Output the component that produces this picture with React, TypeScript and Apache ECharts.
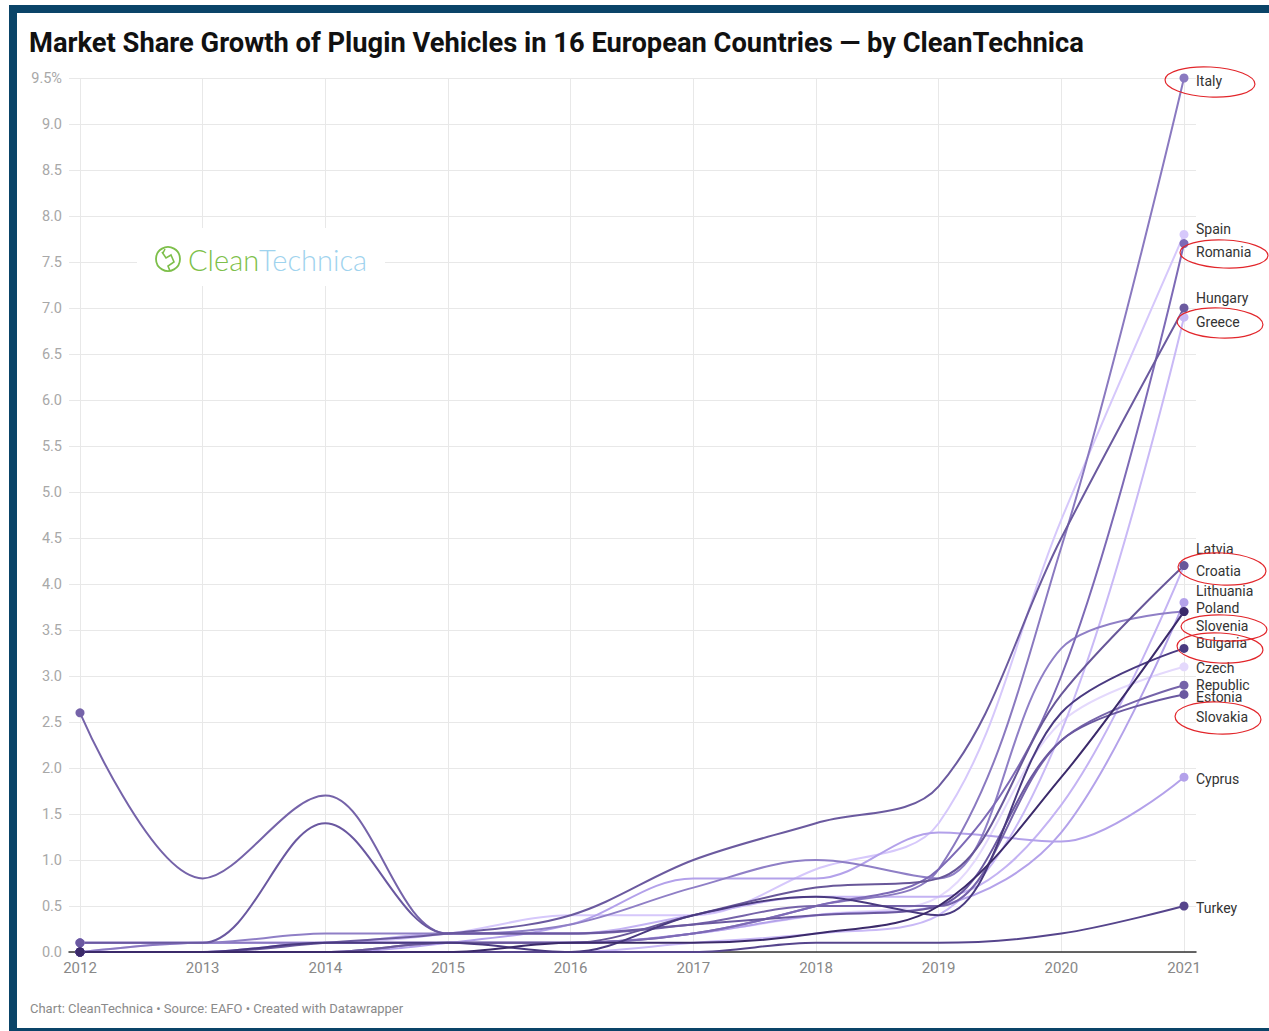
import React, { useEffect, useRef } from "react";
import * as echarts from "echarts";

// ---------- DATA ----------
const years = [2012, 2013, 2014, 2015, 2016, 2017, 2018, 2019, 2020, 2021];
const yTicksMax = 9.5;

const italy = [0.0, 0.1, 0.1, 0.1, 0.1, 0.2, 0.5, 0.9, 4.4, 9.5];
const spain = [0.0, 0.1, 0.1, 0.2, 0.4, 0.4, 0.9, 1.4, 4.7, 7.8];
const romania = [0.0, 0.0, 0.0, 0.1, 0.1, 0.2, 0.5, 0.9, 3.0, 7.7];
const hungary = [0.0, 0.0, 0.1, 0.2, 0.4, 1.0, 1.4, 1.8, 4.5, 7.0];
const greece = [0.0, 0.0, 0.0, 0.0, 0.0, 0.1, 0.2, 0.4, 2.4, 6.9];
const latvia = [0.1, 0.1, 0.1, 0.2, 0.2, 0.4, 0.6, 0.6, 1.6, 4.2];
const croatia = [0.0, 0.0, 0.0, 0.1, 0.1, 0.4, 0.7, 0.8, 2.8, 4.2];
const lithuania = [0.0, 0.0, 0.1, 0.1, 0.1, 0.2, 0.4, 0.5, 1.3, 3.8];
const poland = [0.0, 0.0, 0.0, 0.0, 0.1, 0.1, 0.2, 0.5, 1.9, 3.7];
const slovenia = [0.1, 0.1, 0.2, 0.2, 0.3, 0.7, 1.0, 0.8, 3.3, 3.7];
const bulgaria = [0.0, 0.0, 0.1, 0.1, 0.0, 0.4, 0.6, 0.4, 2.6, 3.3];
const czech = [0.0, 0.0, 0.1, 0.1, 0.1, 0.2, 0.4, 0.6, 2.5, 3.1];
const estonia = [2.6, 0.8, 1.7, 0.2, 0.2, 0.3, 0.5, 0.5, 2.3, 2.9];
const slovakia = [0.1, 0.1, 1.4, 0.2, 0.2, 0.3, 0.4, 0.5, 2.3, 2.8];
const cyprus = [0.0, 0.0, 0.0, 0.1, 0.3, 0.8, 0.8, 1.3, 1.2, 1.9];
const turkey = [0.0, 0.0, 0.0, 0.0, 0.0, 0.0, 0.1, 0.1, 0.2, 0.5];

// drawing order: light first, dark last
const countries = [
  { name: "Czech Republic", label: "Czech\nRepublic", values: czech },
  { name: "Spain", label: "Spain", values: spain },
  { name: "Greece", label: "Greece", values: greece },
  { name: "Latvia", label: "Latvia", values: latvia },
  { name: "Lithuania", label: "Lithuania", values: lithuania },
  { name: "Cyprus", label: "Cyprus", values: cyprus },
  { name: "Italy", label: "Italy", values: italy },
  { name: "Slovenia", label: "Slovenia", values: slovenia },
  { name: "Romania", label: "Romania", values: romania },
  { name: "Estonia", label: "Estonia", values: estonia },
  { name: "Hungary", label: "Hungary", values: hungary },
  { name: "Croatia", label: "Croatia", values: croatia },
  { name: "Slovakia", label: "Slovakia", values: slovakia },
  { name: "Turkey", label: "Turkey", values: turkey },
  { name: "Bulgaria", label: "Bulgaria", values: bulgaria },
  { name: "Poland", label: "Poland", values: poland },
];

// ---------- STYLES ----------
const styles: Record<string, { color: string; dy: number }> = {
  "Czech Republic": { color: "#e4d9fc", dy: 10 },
  Spain: { color: "#d6c8fb", dy: -5 },
  Greece: { color: "#c9b9f6", dy: 5 },
  Latvia: { color: "#c4b3f3", dy: -17 },
  Lithuania: { color: "#b4a2ea", dy: -11 },
  Cyprus: { color: "#b3a1ea", dy: 2 },
  Italy: { color: "#8a79c0", dy: 3 },
  Slovenia: { color: "#8f7fc6", dy: 14 },
  Romania: { color: "#7d6ab6", dy: 8 },
  Estonia: { color: "#7563a9", dy: 12 },
  Hungary: { color: "#6b5a9f", dy: -10 },
  Croatia: { color: "#685799", dy: 5 },
  Slovakia: { color: "#6a58a0", dy: 23 },
  Turkey: { color: "#56458c", dy: 2 },
  Bulgaria: { color: "#4a3a80", dy: -5 },
  Poland: { color: "#3b2a6a", dy: -4 },
};

const W = 1269;
const H = 1031;
const FONT = "Roboto, 'Noto Sans', sans-serif";

const redEllipses = [
  { cx: 1210, cy: 82, rx: 45, ry: 15, r: -0.05 },
  { cx: 1224, cy: 254, rx: 44, ry: 14, r: -0.04 },
  { cx: 1220, cy: 323, rx: 43, ry: 15, r: -0.04 },
  { cx: 1222, cy: 569, rx: 44, ry: 16, r: -0.05 },
  { cx: 1224, cy: 628, rx: 43, ry: 13, r: -0.04 },
  { cx: 1220, cy: 648, rx: 43, ry: 15, r: -0.05 },
  { cx: 1218, cy: 718, rx: 43, ry: 16, r: -0.04 },
];

export default function App() {
  const ref = useRef<HTMLDivElement>(null);

  useEffect(() => {
    if (!ref.current) return;
    const chart = echarts.init(ref.current, undefined, { renderer: "svg" });

    const series: any[] = countries.map((c) => {
      const st = styles[c.name];
      const last = c.values.length - 1;
      return {
        type: "line",
        name: c.name,
        xAxisIndex: 1,
        yAxisIndex: 1,
        data: c.values.map((v, i) => {
          const d: any = { value: [years[i], v] };
          if (i !== 0 && i !== last) d.symbol = "none";
          return d;
        }),
        smooth: 0.35,
        symbol: "circle",
        symbolSize: 9,
        showSymbol: true,
        showAllSymbol: true,
        lineStyle: { width: 2, color: st.color },
        itemStyle: { color: st.color },
        emphasis: { disabled: true },
        silent: true,
        endLabel: {
          show: true,
          formatter: c.label,
          offset: [0, st.dy],
          distance: 12,
          color: "#333",
          fontSize: 14,
          lineHeight: 17,
          fontFamily: FONT,
        },
      };
    });

    const graphics: any[] = [
      // logo background
      {
        type: "rect",
        shape: { x: 137, y: 228, width: 248, height: 58 },
        style: { fill: "#ffffff" },
        z: 5,
      },
      {
        type: "circle",
        shape: { cx: 168, cy: 259, r: 12 },
        style: { fill: "none", stroke: "#7dbf4a", lineWidth: 1.8 },
        z: 6,
      },
      {
        type: "polyline",
        shape: { points: [[162, 252], [166, 258], [171, 255], [174, 262], [168, 266], [170, 271]] },
        style: { fill: "none", stroke: "#7dbf4a", lineWidth: 1.6 },
        z: 6,
      },
      {
        type: "polyline",
        shape: { points: [[165, 249], [163, 253]] },
        style: { fill: "none", stroke: "#7dbf4a", lineWidth: 1.6 },
        z: 6,
      },
      {
        type: "text",
        x: 188,
        y: 259,
        style: {
          text: "{a|Clean}{b|Technica}",
          verticalAlign: "middle",
          rich: {
            a: { fill: "#7dbf4a", fontSize: 29, fontFamily: "Lato, 'Open Sans', sans-serif", fontWeight: 300 },
            b: { fill: "#9fd3ee", fontSize: 29, fontFamily: "Lato, 'Open Sans', sans-serif", fontWeight: 300 },
          },
        },
        z: 6,
      },
      // footer
      {
        type: "text",
        left: 30,
        top: 1002,
        style: {
          text: "Chart: CleanTechnica • Source: EAFO • Created with Datawrapper",
          fill: "#8a8a8a",
          fontSize: 13,
          fontFamily: FONT,
        },
      },
      ...redEllipses.map((e) => ({
        type: "ellipse",
        x: e.cx,
        y: e.cy,
        rotation: e.r,
        shape: { cx: 0, cy: 0, rx: e.rx, ry: e.ry },
        style: { fill: "none", stroke: "#e2262b", lineWidth: 1.2 },
        z: 20,
      })),
    ];

    chart.setOption({
      animation: false,
      textStyle: { fontFamily: FONT },
      title: {
        text: "Market Share Growth of Plugin Vehicles in 16 European Countries — by CleanTechnica",
        left: 24,
        top: 24,
        textStyle: { fontSize: 27.3, fontWeight: "bold", color: "#111", fontFamily: FONT },
      },
      grid: [
        { left: 69, right: W - 1196, top: 78, bottom: H - 952 },
        { left: 80, right: W - 1184, top: 78, bottom: H - 952 },
      ],
      xAxis: [
        {
          gridIndex: 0,
          type: "value",
          min: 0,
          max: 1,
          axisLine: { show: true, lineStyle: { color: "#333", width: 1.5 } },
          axisTick: { show: false },
          axisLabel: { show: false },
          splitLine: { show: false },
        },
        {
          gridIndex: 1,
          type: "value",
          min: years[0],
          max: years[years.length - 1],
          interval: 1,
          axisLine: { show: false },
          axisTick: { show: false },
          axisLabel: {
            formatter: (v: number) => String(v),
            color: "#888",
            fontSize: 15,
            margin: 8,
            fontFamily: FONT,
          },
          splitLine: { show: true, lineStyle: { color: "#e8e8e8", width: 1 } },
        },
      ],
      yAxis: [
        {
          gridIndex: 0,
          type: "value",
          min: 0,
          max: yTicksMax,
          interval: 0.5,
          axisLine: { show: false },
          axisTick: { show: false },
          axisLabel: {
            formatter: (v: number) => (v === yTicksMax ? v.toFixed(1) + "%" : v.toFixed(1)),
            color: "#a8a8a8",
            fontSize: 14.5,
            margin: 7,
            fontFamily: FONT,
          },
          splitLine: { show: true, lineStyle: { color: "#e8e8e8", width: 1 } },
        },
        {
          gridIndex: 1,
          type: "value",
          min: 0,
          max: yTicksMax,
          show: false,
        },
      ],
      series,
      graphic: graphics,
    });

    return () => chart.dispose();
  }, []);

  return (
    <div style={{ position: "fixed", left: 0, top: 0, width: W, height: H, background: "#fff", overflow: "hidden" }}>
      <div
        style={{
          position: "absolute",
          left: 9,
          top: 5,
          width: W + 20,
          height: H - 5 - 11,
          borderStyle: "solid",
          borderColor: "#0a4468",
          borderTopWidth: 8,
          borderLeftWidth: 8,
          borderRightWidth: 3,
          borderBottomWidth: 3,
          boxSizing: "content-box",
        }}
      />
      <div ref={ref} style={{ position: "absolute", left: 0, top: 0, width: W, height: H }} />
    </div>
  );
}
